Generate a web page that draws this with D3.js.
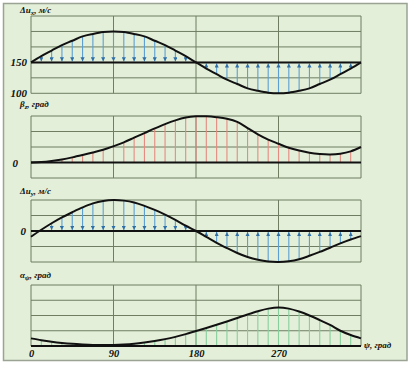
<!DOCTYPE html>
<html><head><meta charset="utf-8">
<script src="https://cdn.jsdelivr.net/npm/d3@7"></script>
<style>
html,body{margin:0;padding:0;background:#fff;}
svg{display:block;}
text{font-family:"Liberation Serif","Times New Roman",serif;font-weight:bold;font-style:italic;fill:#111;}
</style></head>
<body><svg id="c" width="413" height="365"></svg>
<script>
// angle ψ, degrees (stations every 11.25°)
const psi = d3.range(0, 361, 11.25);
const xTicks = [0, 90, 180, 270];
const xTickLabels = ["0", "90", "180", "270"];
// Δu_x, м/с
const dux = [150,160,169,178,185,192,196,199,200,199,196,192,185,178,169,160,150,140,131,122,115,108,104,101,100,101,104,108,115,122,131,140,150];
// β_z, grid units
const betaZ = [0,0.03,0.1,0.2,0.33,0.48,0.64,0.82,1.05,1.3,1.6,1.9,2.2,2.48,2.72,2.9,2.98,2.98,2.92,2.82,2.62,2.22,1.82,1.48,1.21,0.95,0.77,0.63,0.55,0.52,0.57,0.72,1.0];
// Δu_y, grid units
const duy = [-0.37,0.08,0.5,0.88,1.21,1.52,1.78,1.94,2.0,1.96,1.84,1.62,1.36,1.06,0.72,0.34,0,-0.38,-0.76,-1.1,-1.42,-1.68,-1.86,-1.97,-2.0,-1.95,-1.82,-1.6,-1.35,-1.08,-0.8,-0.55,-0.33];
// α_ψ, grid units
const alphaPsi = [0.5,0.38,0.28,0.2,0.14,0.1,0.07,0.06,0.07,0.1,0.15,0.23,0.33,0.45,0.6,0.78,0.98,1.18,1.39,1.61,1.84,2.07,2.28,2.45,2.53,2.45,2.26,2.0,1.7,1.38,1.0,0.72,0.5];

const panels = [
  {label:["Δu","x",", м/с"], values:dux, domain:[100,225], step:25, base:150, top:16, bottom:93.3, labelY:13,
   yTicks:[150,100], stem:"arrow", color:"#5b9fd3"},
  {label:["β","z",", град"], values:betaZ, domain:[-1,3], step:1, base:0, top:116, bottom:178, labelY:107,
   yTicks:[0], stem:"line", color:"#e58a80"},
  {label:["Δu","y",", м/с"], values:duy, domain:[-2,2], step:1, base:0, top:200, bottom:262, labelY:194,
   yTicks:[0], stem:"arrow", color:"#5b9fd3"},
  {label:["α","ψ",", град"], values:alphaPsi, domain:[0,4], step:1, base:0, top:285, bottom:346, labelY:278,
   yTicks:[], stem:"line", color:"#86cf9c"}
];

const svg = d3.select("#c");
svg.append("rect").attr("x",3.5).attr("y",3.5).attr("width",403.5).attr("height",357)
  .attr("fill","#e3efd9").attr("stroke","#9aa394").attr("stroke-width",1.5);

const defs = svg.append("defs");
defs.append("marker").attr("id","ah").attr("viewBox","0 0 6 6").attr("refX",6).attr("refY",3)
  .attr("markerWidth",4.2).attr("markerHeight",4.2).attr("markerUnits","userSpaceOnUse").attr("orient","auto")
  .append("path").attr("d","M0,0L6,3L0,6Z").attr("fill","#2f6fa8");

const x = d3.scaleLinear().domain([0,360]).range([31,361]);
const gridColor = "#6f7d63";

panels.forEach((p,i)=>{
  const y = d3.scaleLinear().domain(p.domain).range([p.bottom,p.top]);
  const g = svg.append("g");
  // grid
  const hv = d3.range(p.domain[0], p.domain[1]+1e-9, p.step);
  g.selectAll(".h").data(hv).join("line").attr("x1",x(0)).attr("x2",x(360))
    .attr("y1",d=>y(d)).attr("y2",d=>y(d)).attr("stroke",gridColor).attr("stroke-width",1);
  g.selectAll(".v").data([0,90,180,270,360]).join("line").attr("x1",d=>x(d)).attr("x2",d=>x(d))
    .attr("y1",p.top).attr("y2",p.bottom).attr("stroke",gridColor).attr("stroke-width",1);
  // stems
  const pts = psi.map((a,k)=>({a, v:p.values[k]})).filter(d=>d.a>0 && d.a<360);
  const st = g.selectAll(".s").data(pts).join("line")
    .attr("x1",d=>x(d.a)).attr("x2",d=>x(d.a))
    .attr("stroke",p.color).attr("stroke-width",1.1);
  if (p.stem==="arrow") {
    st.filter(d=>Math.abs(y(d.v)-y(p.base))>2)
      .attr("y1",d=>y(d.v)).attr("y2",d=>y(p.base) + (d.v>p.base? -1 : 1))
      .attr("marker-end","url(#ah)");
    st.filter(d=>Math.abs(y(d.v)-y(p.base))<=2).remove();
  } else {
    st.attr("y1",y(p.base)).attr("y2",d=>y(d.v));
  }
  // base line
  g.append("line").attr("x1",x(0)).attr("x2",x(360)).attr("y1",y(p.base)).attr("y2",y(p.base))
    .attr("stroke","#111").attr("stroke-width",2);
  // curve
  const line = d3.line().x((d,k)=>x(psi[k])).y(d=>y(d)).curve(d3.curveCatmullRom);
  g.append("path").datum(p.values).attr("d",line).attr("fill","none").attr("stroke","#111").attr("stroke-width",2);
  // y tick labels
  const ya = d3.axisLeft(y).tickValues(p.yTicks).tickSize(0).tickPadding(4).tickFormat(d3.format("d"));
  const ag = g.append("g").attr("transform",`translate(${i===1?22:(i===2?30:31)},0)`).call(ya);
  ag.select(".domain").remove();
  ag.selectAll("text").attr("font-size",11).attr("font-family",null).attr("fill","#111");
  // label
  const t = g.append("text").attr("x",20).attr("y",p.labelY).attr("font-size",9);
  t.append("tspan").text(p.label[0]);
  t.append("tspan").text(p.label[1]).attr("font-size",7).attr("dy",2);
  t.append("tspan").text(p.label[2]).attr("dy",-2);
});

// x axis labels
const xa = d3.axisBottom(x).tickValues(xTicks).tickSize(0).tickPadding(4)
  .tickFormat((d,k)=>xTickLabels[k]);
const xg = svg.append("g").attr("transform","translate(0,346)").call(xa);
xg.select(".domain").remove();
xg.selectAll("text").attr("font-size",10.5).attr("font-family",null).attr("fill","#111");
svg.append("text").attr("x",364).attr("y",348).attr("font-size",9).text("ψ, град");
</script></body></html>
